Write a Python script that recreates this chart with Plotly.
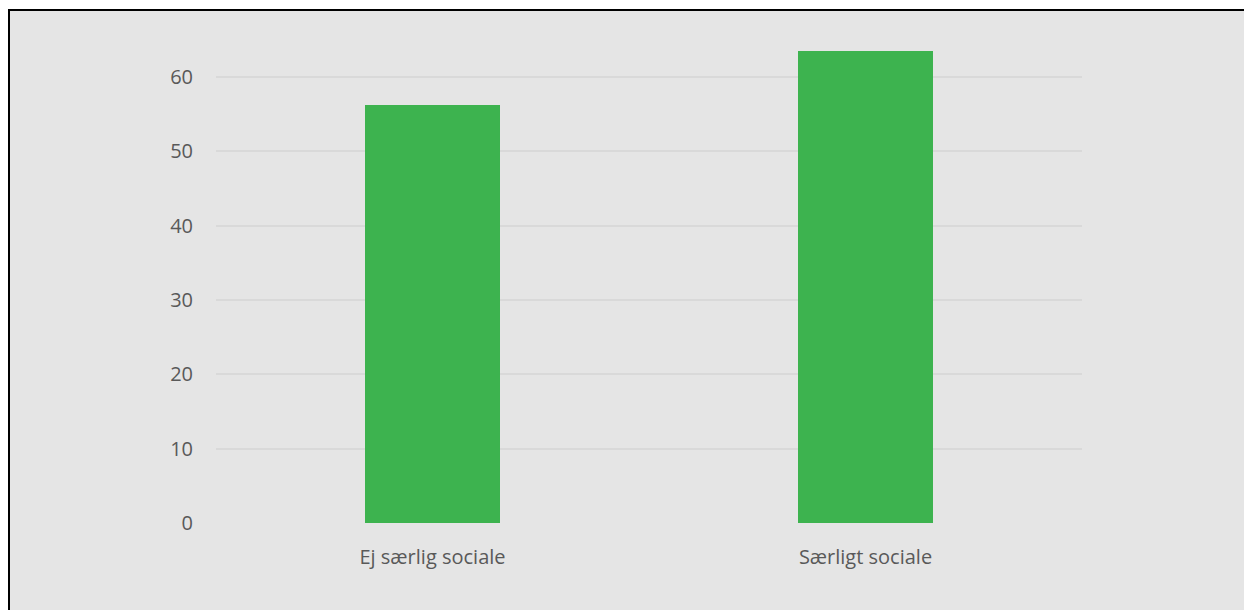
import plotly.graph_objects as go

# Data
categories = ["Ej særlig sociale", "Særligt sociale"]
values = [56.2, 63.5]
y_ticks = [0, 10, 20, 30, 40, 50, 60]

W, H = 1244, 610
left, right, top, bottom = 216, 1082, 40, 523
y_max = 65.0

fig = go.Figure(
    go.Bar(
        x=categories,
        y=values,
        marker=dict(color="#3db34f", line=dict(width=0)),
        width=0.314,
        hoverinfo="x+y",
    )
)

# Grey chart box with black frame, extending past the right and bottom edges
px_w = right - left
px_h = bottom - top
fig.add_shape(
    type="rect",
    xref="paper", yref="paper",
    x0=(9 - left) / px_w, x1=(W + 20 - left) / px_w,
    y0=(bottom - (H + 20)) / px_h, y1=(bottom - 10) / px_h,
    fillcolor="#e5e5e5",
    line=dict(color="black", width=2),
    layer="below",
)

font = dict(family="Open Sans, sans-serif", size=20, color="#595959")

fig.update_layout(
    width=W, height=H,
    margin=dict(l=left, r=W - right, t=top, b=H - bottom, pad=0),
    paper_bgcolor="white",
    plot_bgcolor="rgba(0,0,0,0)",
    showlegend=False,
    bargap=0,
    font=font,
    xaxis=dict(
        showgrid=False, zeroline=False, showline=False,
        ticks="", tickfont=font, ticklabelstandoff=20,
    ),
    yaxis=dict(
        range=[0, y_max],
        tickvals=y_ticks,
        showgrid=True, gridcolor="#d9d9d9", gridwidth=2,
        zeroline=False, showline=False, ticks="",
        tickfont=font, ticklabelstandoff=22,
    ),
)

fig.write_html("out.html")
